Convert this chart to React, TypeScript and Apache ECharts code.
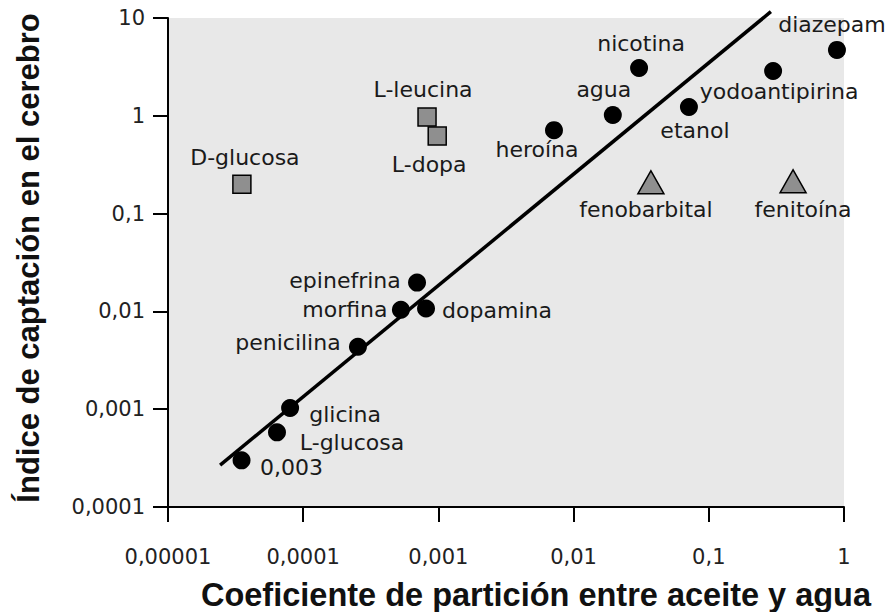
import React, { useEffect, useRef } from "react";
import * as echarts from "echarts";

// Data
const circleNames = ["0,003", "L-glucosa", "glicina", "penicilina", "morfina", "dopamina", "epinefrina", "heroína", "agua", "nicotina", "etanol", "yodoantipirina", "diazepam"];
const circleX = [3.5e-5, 6.4e-5, 8.0e-5, 2.54e-4, 5.28e-4, 8.1e-4, 6.95e-4, 7.16e-3, 0.0195, 0.0305, 0.0713, 0.299, 0.887];
const circleY = [3.0e-4, 5.8e-4, 1.03e-3, 4.35e-3, 0.0104, 0.0107, 0.0197, 0.713, 1.02, 3.08, 1.23, 2.87, 4.72];

const squareNames = ["D-glucosa", "L-leucina", "L-dopa"];
const squareX = [3.52e-5, 8.24e-4, 9.8e-4];
const squareY = [0.199, 0.97, 0.62];

const triangleNames = ["fenobarbital", "fenitoína"];
const triangleX = [0.0373, 0.42];
const triangleY = [0.209, 0.214];

const fitLineX = [2.43e-5, 0.288];
const fitLineY = [2.68e-4, 11.6];

const xTickValues = [0.00001, 0.0001, 0.001, 0.01, 0.1, 1];
const xTickLabels = ["0,00001", "0,0001", "0,001", "0,01", "0,1", "1"];
const yTickValues = [0.0001, 0.001, 0.01, 0.1, 1, 10];
const yTickLabels = ["0,0001", "0,001", "0,01", "0,1", "1", "10"];

const xTitle = "Coeficiente de partición entre aceite y agua";
const yTitle = "Índice de captación en el cerebro";

// Label placement (styling): offset of label center from the marker center
const labelOffsets: Record<string, [number, number]> = {
  "0,003": [50, 7],
  "L-glucosa": [75, 10],
  glicina: [55, 7],
  penicilina: [-70, -4],
  morfina: [-56, 0],
  dopamina: [71, 2],
  epinefrina: [-72, -2],
  "heroína": [-17, 19],
  agua: [-9, -25],
  nicotina: [2, -25],
  etanol: [6, 23],
  yodoantipirina: [6, 20],
  diazepam: [-5, -25],
  "D-glucosa": [3, -27],
  "L-leucina": [-4, -28],
  "L-dopa": [-8, 28],
  fenobarbital: [-5, 27],
  "fenitoína": [10, 28],
};

const LABEL_FONT = "DejaVu Sans";

function tickFormatter(values: number[], labels: string[]) {
  return (v: number) => {
    const lv = Math.log10(v);
    for (let i = 0; i < values.length; i++) {
      if (Math.abs(Math.log10(values[i]) - lv) < 1e-6) return labels[i];
    }
    return "";
  };
}

function makeItems(names: string[], xs: number[], ys: number[]) {
  return names.map((n, i) => ({
    name: n,
    value: [xs[i], ys[i]],
    label: {
      show: true,
      position: "inside",
      offset: labelOffsets[n] || [0, 0],
      formatter: n,
      fontFamily: LABEL_FONT,
      fontSize: 22,
      color: "#1a1a1a",
      align: "center",
      verticalAlign: "middle",
    },
  }));
}

export default function App() {
  const ref = useRef<HTMLDivElement>(null);

  useEffect(() => {
    if (!ref.current) return;
    const chart = echarts.init(ref.current, undefined, { renderer: "svg" });
    const axisCommon = {
      type: "log" as const,
      logBase: 10,
      axisLine: { show: true, onZero: false, lineStyle: { color: "#000", width: 2 } },
      axisTick: { show: true, inside: false, length: 15, lineStyle: { color: "#000", width: 2 } },
      splitLine: { show: false },
      minorTick: { show: false },
      minorSplitLine: { show: false },
    };
    chart.setOption({
      animation: false,
      backgroundColor: "#ffffff",
      grid: {
        left: 168,
        right: 891 - 844,
        top: 18,
        bottom: 612 - 507,
        show: true,
        backgroundColor: "#e8e8e8",
        borderWidth: 0,
      },
      xAxis: {
        ...axisCommon,
        min: 0.00001,
        max: 1,
        axisLabel: {
          margin: 39,
          fontFamily: LABEL_FONT,
          fontSize: 21,
          color: "#222",
          formatter: tickFormatter(xTickValues, xTickLabels),
          showMinLabel: true,
          showMaxLabel: true,
        },
      },
      yAxis: {
        ...axisCommon,
        min: 0.0001,
        max: 10,
        axisLabel: {
          margin: 23,
          fontFamily: LABEL_FONT,
          fontSize: 21,
          color: "#222",
          formatter: tickFormatter(yTickValues, yTickLabels),
          showMinLabel: true,
          showMaxLabel: true,
        },
      },
      graphic: [
        {
          type: "text",
          x: 536,
          y: 595,
          style: {
            text: xTitle,
            fontFamily: "Liberation Sans, Arial, sans-serif",
            fontWeight: "bold",
            fontSize: 32.5,
            fill: "#111",
            align: "center",
            verticalAlign: "middle",
          },
        },
        {
          type: "text",
          x: 28,
          y: 258,
          rotation: Math.PI / 2,
          style: {
            text: yTitle,
            fontFamily: "Liberation Sans, Arial, sans-serif",
            fontWeight: "bold",
            fontSize: 31,
            fill: "#111",
            align: "center",
            verticalAlign: "middle",
          },
        },
      ],
      series: [
        {
          type: "line",
          data: fitLineX.map((x, i) => [x, fitLineY[i]]),
          clip: false,
          symbol: "none",
          lineStyle: { color: "#000", width: 3.5 },
          silent: true,
          z: 2,
        },
        {
          type: "scatter",
          data: makeItems(circleNames, circleX, circleY),
          symbol: "circle",
          symbolSize: 18,
          itemStyle: { color: "#000", opacity: 1 },
          clip: false,
          z: 3,
        },
        {
          type: "scatter",
          data: makeItems(squareNames, squareX, squareY),
          symbol: "rect",
          symbolSize: 18,
          itemStyle: { color: "#8f8f8f", borderColor: "#000", borderWidth: 1.5, opacity: 1 },
          clip: false,
          z: 3,
        },
        {
          type: "scatter",
          data: makeItems(triangleNames, triangleX, triangleY),
          symbol: "triangle",
          symbolSize: [26, 23],
          itemStyle: { color: "#8f8f8f", borderColor: "#000", borderWidth: 1.5, opacity: 1 },
          clip: false,
          z: 3,
        },
      ],
    });
    return () => chart.dispose();
  }, []);

  return <div ref={ref} style={{ width: 891, height: 612, position: "absolute", left: 0, top: 0 }} />;
}
